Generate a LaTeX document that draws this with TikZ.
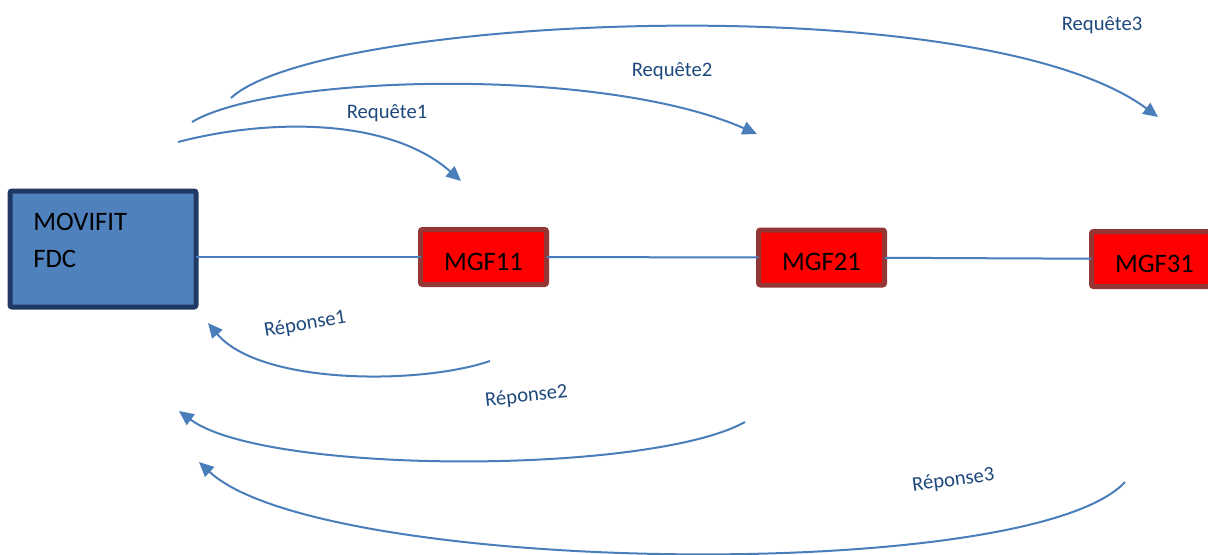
\documentclass[tikz,border=0pt]{standalone}
\usepackage{fontspec}
\setmainfont{Carlito}
\usetikzlibrary{arrows.meta}
\definecolor{FDCBlue}{HTML}{4F81BD}
\definecolor{FDCDark}{HTML}{1F3864}
\definecolor{MGFRed}{HTML}{FF0000}
\definecolor{MGFBorder}{HTML}{943634}
\definecolor{LinkBlue}{HTML}{4A7EBB}
\definecolor{LabelBlue}{HTML}{1F497D}

\begin{document}
\begin{tikzpicture}[x=0.75pt, y=-0.75pt,
  fdcbox/.style={draw=FDCDark, fill=FDCBlue, line width=3.75pt, rounded corners=1.5pt,
                 minimum width=139.5pt, minimum height=87pt, outer sep=0pt, inner sep=0pt},
  fdctext/.style={font=\fontsize{20}{27.75}\selectfont, align=left, inner sep=0pt},
  mgfbox/.style={draw=MGFBorder, fill=MGFRed, line width=3.75pt, rounded corners=1.5pt,
                 minimum width=94.5pt, minimum height=41.25pt, outer sep=0pt, inner ysep=0pt,
                 font=\fontsize{20}{24}\selectfont, text height=20pt, text depth=0pt},
  link/.style={line width=1.5pt, color=LinkBlue},
  arrow/.style={-{Triangle[length=11pt,width=10pt]}, line width=1.5pt, color=LinkBlue},
  label/.style={font=\fontsize{15.5}{18}\selectfont, text=LabelBlue, inner sep=0pt, anchor=base}
]
  \useasboundingbox (0,0) rectangle (1208,554);

  \node[fdcbox] (fdc)   at (103,249)    {};
  \node[fdctext, anchor=north west] (fdcname) at (33,213) {MOVIFIT\\FDC};
  \node[mgfbox] (mgf11) at (483.5,257)  {MGF11};
  \node[mgfbox] (mgf21) at (821.5,257.5) {MGF21};
  \node[mgfbox] (mgf31) at (1154.5,259) {MGF31};

  \draw[link] (fdc.east |- mgf11.west) -- (mgf11.west);
  \draw[link] (mgf11) -- (mgf21);
  \draw[link] (mgf21) -- (mgf31);

  \coordinate (req1s) at (178,142);
  \coordinate (req1e) at (461,181);
  \coordinate (req2s) at (192,122);
  \coordinate (req2e) at (757,134);
  \coordinate (req3s) at (231,98);
  \coordinate (req3e) at (1158,117);
  \coordinate (rep1s) at (490,361);
  \coordinate (rep1e) at (208,323);
  \coordinate (rep2s) at (745,422);
  \coordinate (rep2e) at (179,411);
  \coordinate (rep3s) at (1125,482);
  \coordinate (rep3e) at (199,462);

  \draw[arrow] (req1s) .. controls (270,118) and (390,118) .. (req1e);
  \draw[arrow] (req2s) .. controls (270,75) and (600,65) .. (req2e);
  \draw[arrow] (req3s) .. controls (320,15) and (980,-15) .. (req3e);
  \draw[arrow] (rep1s) .. controls (420,385) and (260,385) .. (rep1e);
  \draw[arrow] (rep2s) .. controls (650,475) and (265,475) .. (rep2e);
  \draw[arrow] (rep3s) .. controls (1030,585) and (320,575) .. (rep3e);

  \node[label] (req1) at (387,118) {Requête1};
  \node[label] (req2) at (672,76)  {Requête2};
  \node[label] (req3) at (1102,30) {Requête3};
  \node[label, rotate=9.5] (rep1) at (306,330) {Réponse1};
  \node[label, rotate=6]   (rep2) at (527,402) {Réponse2};
  \node[label, rotate=7.5] (rep3) at (954,486) {Réponse3};
\end{tikzpicture}
\end{document}
